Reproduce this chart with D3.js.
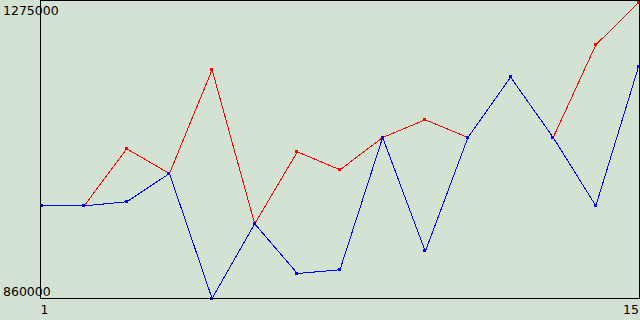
<!DOCTYPE html>
<html><head><meta charset="utf-8">
<script src="https://cdn.jsdelivr.net/npm/d3@7"></script>
<style>html,body{margin:0;padding:0;background:#d4e2d4;}svg{display:block;}</style>
</head><body>
<svg id="c" width="640" height="320"></svg>
<script>
const xValues = [1,2,3,4,5,6,7,8,9,10,11,12,13,14,15];
const redSeries = [989000,989000,1068500,1034000,1178500,964000,1064300,1039200,1084200,1108900,1084200,1168200,1084200,1213300,1272000];
const blueSeries = [989000,989000,994700,1034000,860000,964000,894800,900000,1084200,925500,1084200,1168200,1084200,989000,1182700];
const yTickLabels = ["860000","1275000"];
const xTickLabels = ["1","15"];

const svg = d3.select("#c");
const L = 40.5, R = 639.5, T = 0.5, B = 298.5;
const x = d3.scaleLinear().domain([1,15]).range([41.5,638.5]);
const y = d3.scaleLinear().domain([860000,1275000]).range([B, T]);

svg.append("rect").attr("x",0).attr("y",0).attr("width",640).attr("height",320).attr("fill","#d4e2d4");

const line = d3.line().x((d,i)=>x(xValues[i])).y(d=>y(d));
function drawSeries(data,color){
  svg.append("path").datum(data).attr("d",line).attr("fill","none").attr("stroke",color).attr("stroke-width",1).attr("shape-rendering","crispEdges");
  svg.selectAll(null).data(data).enter().append("rect")
    .attr("x",(d,i)=>Math.round(x(xValues[i]))-2).attr("y",d=>Math.round(y(d))-2)
    .attr("width",3).attr("height",3).attr("fill",color).attr("shape-rendering","crispEdges");
}
drawSeries(redSeries,"#ff0000");
drawSeries(blueSeries,"#0000ff");

// frame
svg.append("path").attr("d",`M${L},${T}H${R}V${B}H${L}Z`).attr("fill","none").attr("stroke","#000").attr("stroke-width",1).attr("shape-rendering","crispEdges");

const font = "DejaVu Sans, sans-serif";
svg.append("text").attr("x",3).attr("y",15).text(yTickLabels[1]).attr("font-family",font).attr("font-size",12.5).attr("fill","#000");
svg.append("text").attr("x",3).attr("y",296).text(yTickLabels[0]).attr("font-family",font).attr("font-size",12.5).attr("fill","#000");
svg.append("text").attr("x",x(1)+3).attr("y",314).attr("text-anchor","middle").text(xTickLabels[0]).attr("font-family",font).attr("font-size",12.5).attr("fill","#000");
svg.append("text").attr("x",639).attr("y",314).attr("text-anchor","end").text(xTickLabels[1]).attr("font-family",font).attr("font-size",12.5).attr("fill","#000");
</script>
</body></html>
